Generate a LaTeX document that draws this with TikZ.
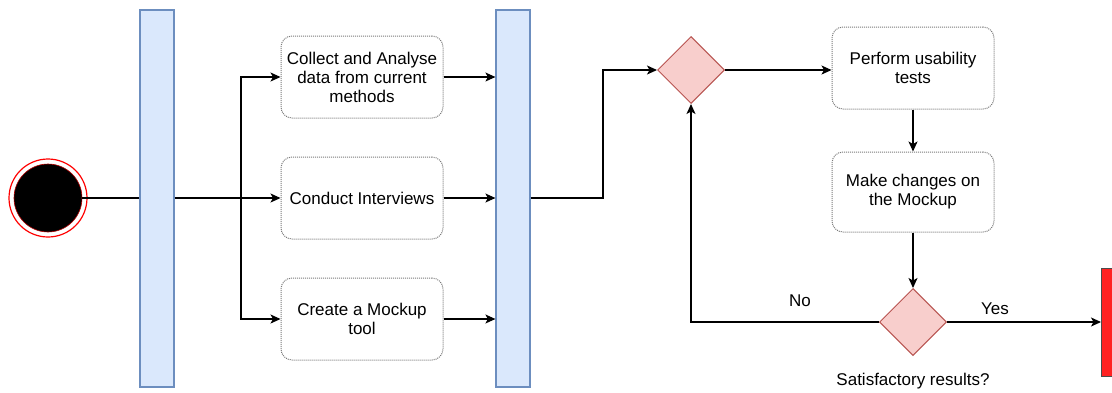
\documentclass[tikz,border=0pt]{standalone}
\usepackage{fontspec}
\setmainfont{Liberation Sans}
\usetikzlibrary{arrows.meta,shapes.geometric}
\definecolor{barfill}{HTML}{DAE8FC}
\definecolor{barline}{HTML}{6C8EBF}
\definecolor{dfill}{HTML}{F8CECC}
\definecolor{dline}{HTML}{B85450}
\definecolor{endfill}{HTML}{FF2222}
\definecolor{boxline}{HTML}{7A7A7A}
\begin{document}
\begin{tikzpicture}[x=1pt,y=-1pt,
  font=\fontsize{17}{19}\selectfont,
  bar/.style={draw=barline,fill=barfill,line width=1.2pt,minimum width=34pt,minimum height=377pt,inner sep=0pt},
  actbox/.style={draw=boxline,dash pattern=on 1pt off 1pt,line width=1pt,rounded corners=11pt,minimum width=162pt,minimum height=82pt,align=center,inner sep=2pt},
  dec/.style={diamond,draw=dline,fill=dfill,line width=1pt,minimum width=67pt,minimum height=67pt,inner sep=0pt},
  conn/.style={draw=black,line width=1.1pt},
  arr/.style={conn,-{Stealth[length=10pt,width=9pt,inset=2.5pt]}},
  lbl/.style={inner sep=0pt}]
\useasboundingbox (0,0) rectangle (1112,392);
\fill[white] (0,0) rectangle (1112,392);
% start
\node[circle,draw=red,fill=white,line width=1.2pt,minimum size=78pt,inner sep=0pt] (start) at (48,198) {};
\node[circle,draw=red!70!black,fill=black,line width=0.6pt,minimum size=68pt,inner sep=0pt] (startin) at (48,198) {};
% bars
\node[bar] (bar1) at (157,198.5) {};
\node[bar] (bar2) at (513,198.5) {};
% boxes
\node[actbox] (box1) at (362,77) {Collect and Analyse\\data from current\\methods};
\node[actbox] (box2) at (362,198) {Conduct Interviews};
\node[actbox] (box3) at (362,319) {Create a Mockup\\tool};
\node[dec] (d1) at (691,70) {};
\node[actbox] (box4) at (913,68) {Perform usability\\tests};
\node[actbox,minimum height=80pt] (box5) at (913,192) {Make changes on\\the Mockup};
\node[dec] (d2) at (913,322) {};
\begin{scope}
\clip (0,0) rectangle (1112,392);
\node[draw=black!70,fill=endfill,line width=1.2pt,minimum width=24pt,minimum height=108pt,inner sep=0pt,anchor=north west] (end) at (1101,268) {};
\end{scope}
% labels
\node[lbl] (no) at (800,301) {No};
\node[lbl] (yes) at (995,309) {Yes};
\node[lbl] (sat) at (913,381) {Satisfactory results?};
% coordinates
\coordinate (br) at (241,198);
\coordinate (c2) at (603,198);
% connectors
\draw[conn] (startin.east) -- (startin.east -| bar1.west);
\draw[arr] (bar1.east |- box2.west) -- (box2.west);
\draw[arr] (br) |- (box1.west);
\draw[arr] (br) |- (box3.west);
\draw[arr] (box1.east) -- (box1.east -| bar2.west);
\draw[arr] (box2.east) -- (box2.east -| bar2.west);
\draw[arr] (box3.east) -- (box3.east -| bar2.west);
\draw[arr] (bar2.east |- c2) -- (c2) |- (d1.west);
\draw[arr] (d1.east) -- (d1.east -| box4.west);
\draw[arr] (box4.south) -- (box5.north);
\draw[arr] (box5.south) -- (d2.north);
\draw[arr] (d2.east) -- (d2.east -| end.west);
\draw[arr] (d2.west) -| (d1.south);
\end{tikzpicture}
\end{document}
